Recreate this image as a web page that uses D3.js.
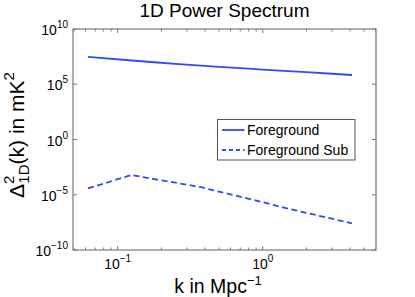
<!DOCTYPE html>
<html><head><meta charset="utf-8">
<script src="https://cdn.jsdelivr.net/npm/d3@7"></script>
<style>body{margin:0;background:#fff}svg{display:block;font-family:"Liberation Sans",Arial,sans-serif}</style>
</head><body><div id="c"></div>
<script>
const kValues = [0.0625,0.125,0.1875,0.25,0.375,0.5,0.75,1.0,1.5,2.0,3.0,4.125];
const foreground = [2.95e7,1.41e7,9.3e6,7.1e6,4.8e6,3.7e6,2.7e6,2.14e6,1.55e6,1.23e6,8.9e5,6.9e5];
const foregroundSub = [3.8e-5,6.2e-4,2.3e-4,1.23e-4,4.8e-5,1.9e-5,5.4e-6,2.1e-6,5.5e-7,2.3e-7,6.8e-8,2.6e-8];
const seriesNames = ["Foreground","Foreground Sub"];
const xTickExps = [-1,0];
const yTickExps = [-10,-5,0,5,10];

const W=415,H=297;
const m={l:73,r:376,t:29,b:250};
const svg=d3.select("#c").append("svg").attr("width",W).attr("height",H);
const x=d3.scaleLog().domain([0.0492,6.04]).range([m.l,m.r]);
const y=d3.scaleLog().domain([1e-10,1e10]).range([m.b,m.t]);
const axisCol="#7a7a7a";
const blue="#2e4bff";

svg.append("rect").attr("x",m.l).attr("y",m.t).attr("width",m.r-m.l).attr("height",m.b-m.t)
  .attr("fill","none").attr("stroke",axisCol).attr("stroke-width",1.2);

const xMinor=[];
for(let e=-2;e<=1;e++) for(let d=1;d<=9;d++){const v=d*Math.pow(10,e); if(v>=x.domain()[0]&&v<=x.domain()[1]) xMinor.push({v,major:d===1});}
const tg=svg.append("g").attr("stroke",axisCol).attr("stroke-width",1);
xMinor.forEach(t=>{const L=t.major?4:2.5;const px=x(t.v);
  tg.append("line").attr("x1",px).attr("x2",px).attr("y1",m.b).attr("y2",m.b-L);
  tg.append("line").attr("x1",px).attr("x2",px).attr("y1",m.t).attr("y2",m.t+L);});
yTickExps.forEach(e=>{const py=y(Math.pow(10,e));
  tg.append("line").attr("x1",m.l).attr("x2",m.l+4).attr("y1",py).attr("y2",py);
  tg.append("line").attr("x1",m.r).attr("x2",m.r-4).attr("y1",py).attr("y2",py);});

function supLabel(g,px,py,exp,anchor,fs,fsSup){
  const t=g.append("text").attr("x",px).attr("y",py).attr("text-anchor",anchor).attr("font-size",fs).attr("fill","#000");
  t.append("tspan").text("10");
  t.append("tspan").attr("font-size",fsSup).attr("dy",-7).text(exp<0?"\u2212"+(-exp):String(exp));
  return t;
}
const lg=svg.append("g");
yTickExps.forEach(e=>supLabel(lg,68,y(Math.pow(10,e))+6,e,"end",14,10));
xTickExps.forEach(e=>supLabel(lg,x(Math.pow(10,e)),269,e,"middle",14,10));

const data=kValues.map((k,i)=>({k,a:foreground[i],b:foregroundSub[i]}));
svg.append("path").datum(data).attr("fill","none").attr("stroke",blue).attr("stroke-width",1.8)
  .attr("d",d3.line().x(d=>x(d.k)).y(d=>y(d.a)));
svg.append("path").datum(data).attr("fill","none").attr("stroke",blue).attr("stroke-width",1.8)
  .attr("stroke-dasharray","6,3.5").attr("d",d3.line().x(d=>x(d.k)).y(d=>y(d.b)));

svg.append("text").attr("x",(m.l+m.r)/2).attr("y",17).attr("text-anchor","middle").attr("font-size",19).text("1D Power Spectrum");
const xl=svg.append("text").attr("x",218).attr("y",293).attr("text-anchor","middle").attr("font-size",19.5);
xl.append("tspan").text("k in Mpc");
xl.append("tspan").attr("font-size",13).attr("dy",-8).text("\u22121");
const yl=svg.append("text").attr("transform","translate(24,198) rotate(-90)").attr("text-anchor","start").attr("font-size",21);
yl.append("tspan").text("\u0394");
yl.append("tspan").attr("font-size",15).attr("dy",-10).text("2");
yl.append("tspan").attr("font-size",15).attr("dx",-8).attr("dy",15).text("1D");
yl.append("tspan").attr("dy",-5).text("(k) in mK");
yl.append("tspan").attr("font-size",15).attr("dy",-10).text("2");

const L={x:217.5,y:119.5,w:137.5,h:40.5};
const leg=svg.append("g");
leg.append("rect").attr("x",L.x).attr("y",L.y).attr("width",L.w).attr("height",L.h).attr("fill","#fff").attr("stroke","#555").attr("stroke-width",1);
seriesNames.forEach((n,i)=>{const yy=L.y+10.5+i*20;
  leg.append("line").attr("x1",L.x+4.5).attr("x2",L.x+27).attr("y1",yy).attr("y2",yy).attr("stroke",blue).attr("stroke-width",1.8)
    .attr("stroke-dasharray",i?"4,3":null);
  leg.append("text").attr("x",L.x+29.5).attr("y",yy+5).attr("font-size",14).text(n);});
</script></body></html>
